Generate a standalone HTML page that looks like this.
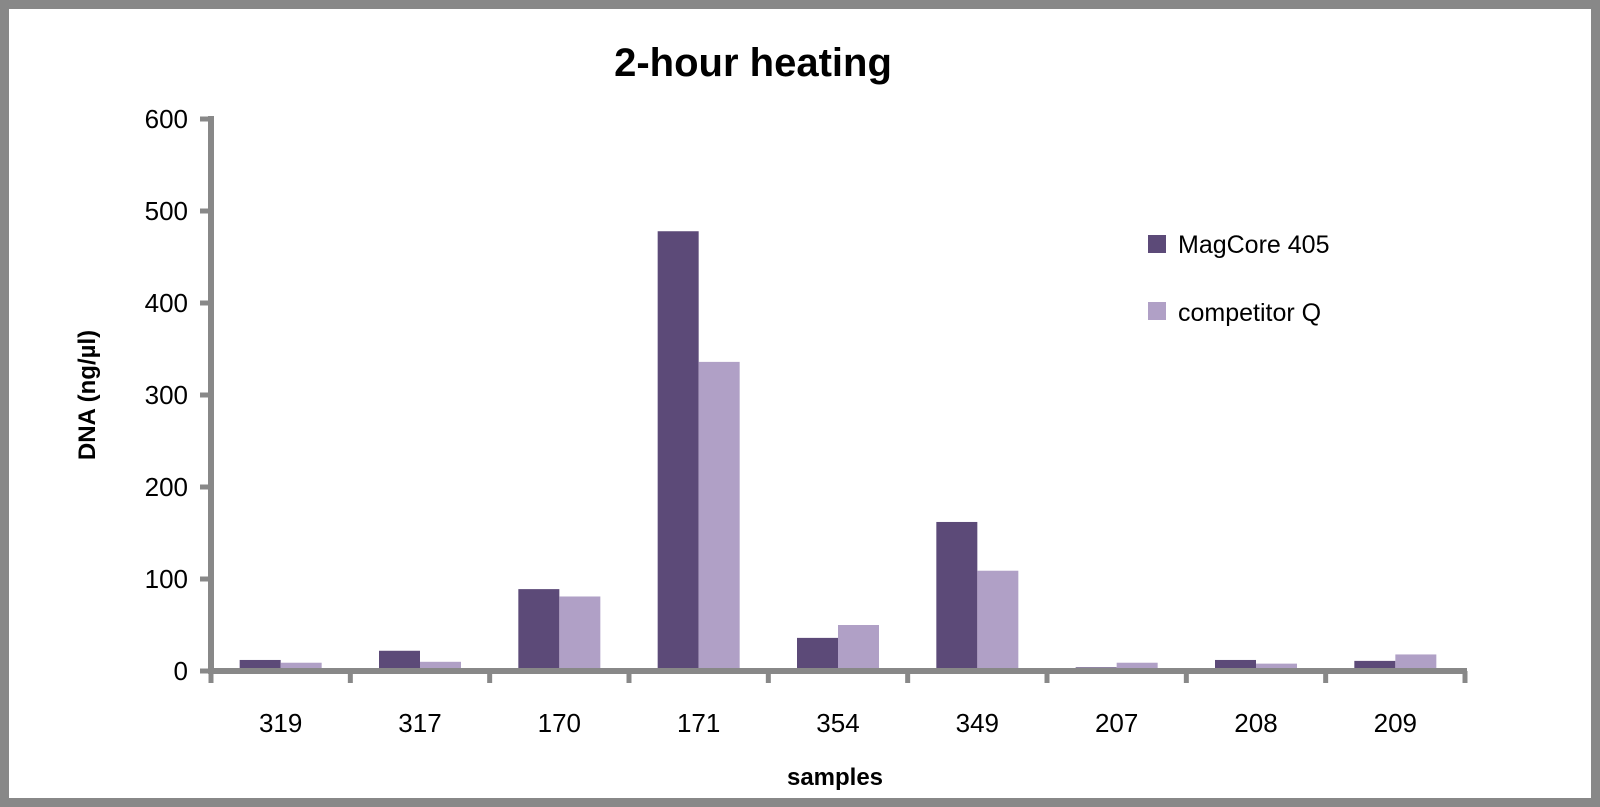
<!DOCTYPE html>
<html><head><meta charset="utf-8"><style>
body{margin:0;background:#fff}
svg{display:block}
text{font-family:"Liberation Sans",sans-serif;fill:#000}
</style></head><body>
<svg width="1600" height="807" viewBox="0 0 1600 807" id="c">
<rect x="4.5" y="4.5" width="1591" height="798" fill="#fff" stroke="#888" stroke-width="9"/>
<text x="753" y="76" font-size="40" font-weight="bold" text-anchor="middle">2-hour heating</text>
<text transform="translate(95,395) rotate(-90)" font-size="24" font-weight="bold" text-anchor="middle">DNA (ng/µl)</text>
<text x="835" y="785" font-size="24" font-weight="bold" text-anchor="middle">samples</text>
<g id="plot"></g>
<rect x="1148" y="235" width="18" height="18" fill="#5c4a78"/>
<text x="1178" y="253" font-size="25">MagCore 405</text>
<rect x="1148" y="302" width="18" height="18" fill="#b0a0c6"/>
<text x="1178" y="321" font-size="25">competitor Q</text>
</svg>
<script>
const categories=["319","317","170","171","354","349","207","208","209"];
const magcore=[12,22,89,478,36,162,4,12,11];
const competitor=[9,10,81,336,50,109,9,8,18];
const yTicks=[0,100,200,300,400,500,600];
const NS="http://www.w3.org/2000/svg";
const g=document.getElementById("plot");
const x0=211,x1=1465,y0=671,yTop=119,yMax=600;
const band=(x1-x0)/categories.length;
const y=v=>y0-(v/yMax)*(y0-yTop);
function mk(tag,attrs){const e=document.createElementNS(NS,tag);for(const k in attrs)e.setAttribute(k,attrs[k]);g.appendChild(e);return e;}
categories.forEach((c,i)=>{
  const cx=x0+band*(i+0.5);
  let b=mk("rect",{x:cx-41,y:y(magcore[i]),width:41,height:y0-y(magcore[i]),fill:"#5c4a78"});
  
  
  b=mk("rect",{x:cx,y:y(competitor[i]),width:41,height:y0-y(competitor[i]),fill:"#b0a0c6"});
  
  
  const t=mk("text",{x:cx,y:732,"font-size":26,"text-anchor":"middle"});t.textContent=c;
  
  
});
for(let i=0;i<=categories.length;i++){
  const tx=x0+band*i;
  const l=mk("line",{x1:tx,x2:tx,y1:y0,y2:y0+12,stroke:"#888","stroke-width":5});
  
  
}
yTicks.forEach(v=>{
  const l=mk("line",{x1:200,x2:x0,y1:y(v),y2:y(v),stroke:"#888","stroke-width":5});
  
  
  const t=mk("text",{x:188,y:y(v)+9,"font-size":26,"text-anchor":"end"});t.textContent=v;
  
  
});
let a=mk("line",{x1:x0,x2:x0,y1:yTop-3,y2:y0+3,stroke:"#888","stroke-width":6});


a=mk("line",{x1:x0-3,x2:x1+2,y1:y0,y2:y0,stroke:"#888","stroke-width":6});


</script>
</body></html>
